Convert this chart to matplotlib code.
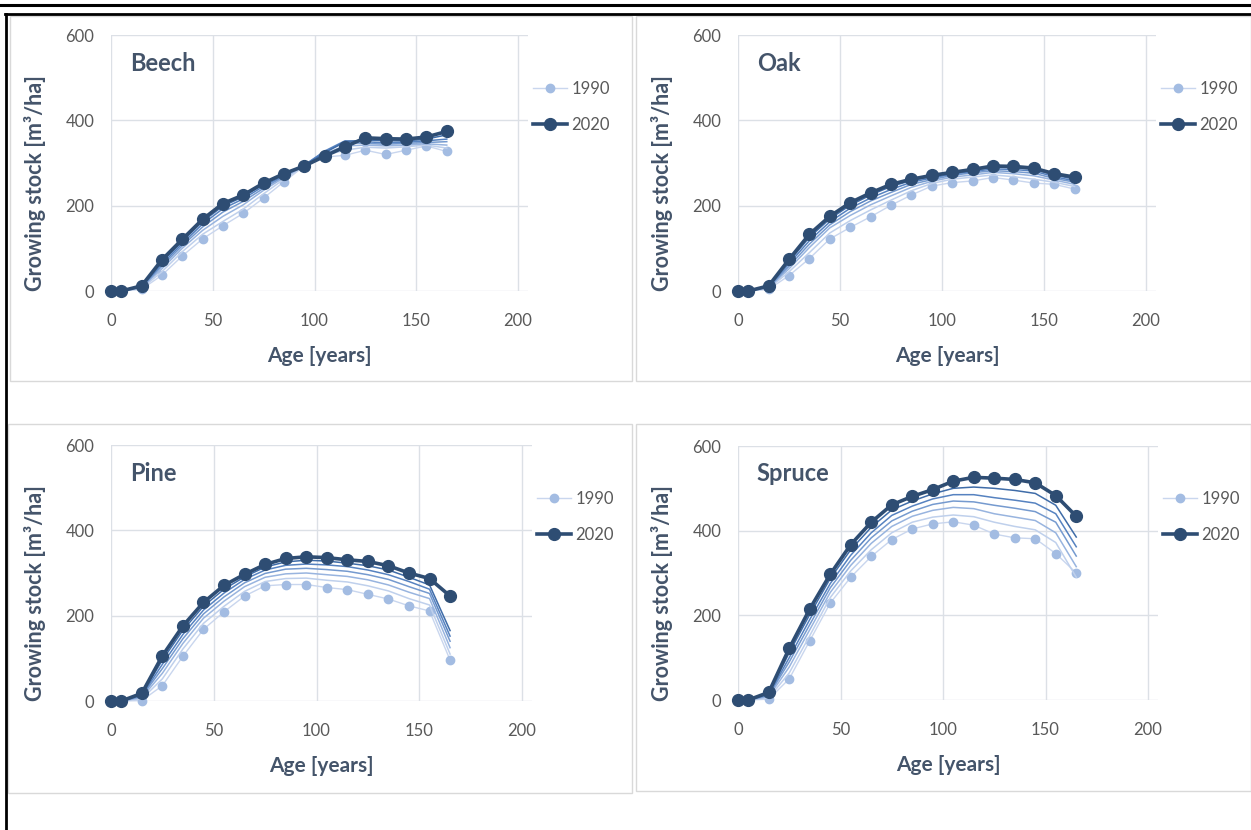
import matplotlib
matplotlib.use('Agg')
import matplotlib.pyplot as plt
from matplotlib.patches import Rectangle
from matplotlib.lines import Line2D

# Alter (Jahre) und Vorrat je Baumart
ages = [0, 5, 15, 25, 35, 45, 55, 65, 75, 85, 95, 105, 115, 125, 135, 145, 155, 165]
years = [1990, 1995, 2000, 2005, 2010, 2015, 2020]

beech = {
    1990: [0, 0, 4, 37, 82, 122, 153, 182, 218, 256, 293, 314, 318, 330, 320, 330, 340, 327],
    1995: [0, 0, 6, 45, 92, 133, 163, 192, 228, 262, 293, 318, 330, 337, 335, 338, 342, 335],
    2000: [0, 0, 8, 52, 100, 142, 175, 202, 236, 266, 294, 322, 340, 342, 340, 342, 345, 342],
    2005: [0, 0, 9, 58, 106, 150, 185, 210, 241, 269, 295, 326, 348, 346, 344, 346, 348, 350],
    2010: [0, 0, 10, 63, 111, 157, 193, 216, 246, 271, 295, 328, 352, 350, 347, 349, 352, 356],
    2015: [0, 0, 11, 68, 116, 163, 199, 221, 250, 273, 294, 324, 350, 354, 352, 352, 356, 366],
    2020: [0, 0, 12, 73, 121, 168, 205, 225, 253, 275, 293, 316, 338, 359, 357, 356, 361, 374],
}
oak = {
    1990: [0, 0, 4, 36, 76, 122, 149, 174, 201, 225, 246, 254, 258, 266, 260, 253, 250, 239],
    1995: [0, 0, 6, 45, 90, 136, 165, 190, 213, 235, 252, 262, 267, 272, 268, 262, 255, 245],
    2000: [0, 0, 8, 52, 102, 148, 177, 202, 223, 243, 257, 267, 272, 278, 275, 270, 260, 250],
    2005: [0, 0, 9, 58, 110, 155, 186, 211, 231, 250, 261, 271, 277, 282, 280, 276, 264, 255],
    2010: [0, 0, 10, 64, 118, 162, 194, 218, 238, 255, 265, 274, 280, 286, 285, 281, 268, 258],
    2015: [0, 0, 11, 69, 126, 169, 201, 225, 245, 259, 268, 276, 283, 290, 289, 285, 272, 262],
    2020: [0, 0, 12, 74, 133, 175, 207, 230, 250, 262, 271, 278, 285, 293, 292, 288, 275, 267],
}
pine = {
    1990: [0, 0, 1, 36, 105, 168, 209, 246, 270, 273, 273, 266, 261, 250, 239, 223, 211, 96],
    1995: [0, 0, 5, 52, 122, 182, 222, 257, 280, 287, 288, 283, 279, 270, 258, 240, 225, 110],
    2000: [0, 0, 8, 65, 135, 194, 234, 268, 290, 298, 300, 296, 292, 284, 272, 255, 240, 125],
    2005: [0, 0, 11, 76, 146, 204, 244, 277, 299, 309, 311, 308, 304, 296, 285, 268, 252, 140],
    2010: [0, 0, 13, 86, 156, 213, 253, 285, 307, 318, 321, 319, 315, 307, 296, 280, 262, 152],
    2015: [0, 0, 16, 96, 166, 222, 262, 291, 314, 326, 330, 328, 323, 317, 307, 290, 272, 165],
    2020: [0, 0, 18, 106, 176, 231, 271, 297, 320, 334, 338, 336, 331, 327, 317, 300, 287, 246],
}
spruce = {
    1990: [0, 0, 2, 50, 140, 229, 290, 339, 379, 404, 416, 421, 413, 392, 383, 381, 346, 300],
    1995: [0, 0, 5, 64, 152, 242, 305, 355, 395, 420, 432, 437, 433, 420, 410, 402, 372, 290],
    2000: [0, 0, 8, 78, 166, 254, 318, 370, 410, 434, 448, 455, 452, 440, 432, 424, 395, 315],
    2005: [0, 0, 11, 90, 178, 265, 330, 383, 423, 446, 462, 470, 468, 460, 453, 445, 420, 340],
    2010: [0, 0, 13, 100, 190, 275, 342, 395, 436, 458, 475, 485, 485, 478, 472, 465, 440, 362],
    2015: [0, 0, 15, 112, 202, 287, 355, 408, 449, 470, 487, 500, 503, 500, 495, 488, 460, 385],
    2020: [0, 0, 18, 122, 215, 297, 367, 420, 461, 481, 497, 517, 526, 524, 521, 513, 483, 434],
}

species = ['Beech', 'Oak', 'Pine', 'Spruce']
data = [beech, oak, pine, spruce]

# Farben
text_col = '#44546A'
tick_col = '#595959'
grid_col = '#DCE0E6'
col_1990 = '#A3BCE2'
col_2020 = '#2E4D73'
mid_cols = ['#BFD0EC', '#98B4DF', '#759ACF', '#5682C0', '#3F6CA8']

W, H = 1251, 830
fig = plt.figure(figsize=(W / 100, H / 100), dpi=100)
plt.rcParams['font.family'] = ['Lato', 'DejaVu Sans']

# Rahmen oben / links
fig.add_artist(Line2D([0, 1], [1 - 5 / H, 1 - 5 / H], color='black', lw=2.2, transform=fig.transFigure))
fig.add_artist(Line2D([5 / W, 1], [1 - 14 / H, 1 - 14 / H], color='black', lw=2, transform=fig.transFigure))
fig.add_artist(Line2D([6 / W, 6 / W], [0, 1 - 14 / H], color='black', lw=2, transform=fig.transFigure))

# Panel-Rahmen (x0, x1, y0, y1 in Pixel)
panels = [(10, 632, 16, 381), (636, 1251, 16, 381), (8, 632, 424, 793), (636, 1251, 424, 791)]
for x0, x1, y0, y1 in panels:
    fig.add_artist(Rectangle((x0 / W, 1 - y1 / H), (x1 - x0) / W, (y1 - y0) / H,
                             transform=fig.transFigure, fill=False, edgecolor='#D9D9D9', lw=1))

# Achsen (x bei Alter 0, x bei Alter 200, y oben bei 600, y unten bei 0)
axes_px = [(111, 518, 35, 291), (738, 1146, 35, 291), (111, 522, 445, 701), (738, 1148, 446, 700)]

for (x0, x200, ytop, ybot), name, d in zip(axes_px, species, data):
    x1 = x0 + (x200 - x0) * 205 / 200
    ax = fig.add_axes([x0 / W, 1 - ybot / H, (x1 - x0) / W, (ybot - ytop) / H])
    ax.set_xlim(0, 205)
    ax.set_ylim(0, 600)
    ax.set_xticks([0, 50, 100, 150, 200])
    ax.set_yticks([0, 200, 400, 600])
    ax.grid(True, color=grid_col, lw=1)
    ax.set_axisbelow(True)
    for s in ax.spines.values():
        s.set_visible(False)
    ax.tick_params(length=0, labelsize=12, labelcolor=tick_col)
    ax.tick_params(axis='x', pad=16)
    ax.tick_params(axis='y', pad=12)

    ax.plot(ages, d[1990], color='#C9D6EE', lw=1, marker='o', ms=6,
            mfc=col_1990, mec=col_1990, label='1990', clip_on=False, zorder=3)
    for yr, c in zip(years[1:-1], mid_cols):
        ax.plot(ages, d[yr], color=c, lw=1.1, clip_on=False, zorder=3)
    ax.plot(ages, d[2020], color=col_2020, lw=2.6, marker='o', ms=8.5,
            mfc=col_2020, mec=col_2020, label='2020', clip_on=False, zorder=4)

    ax.text(0.045, 0.89, name, transform=ax.transAxes, fontsize=17, fontweight='bold',
            color=text_col, va='center', ha='left')
    ax.set_xlabel('Age [years]', fontsize=15, fontweight='bold', color=text_col, labelpad=12)
    ax.set_ylabel('Growing stock [m³/ha]', fontsize=15.5, fontweight='bold', color=text_col)
    ax.yaxis.set_label_coords(-0.155, 0.42)

    leg = ax.legend(loc='center left', bbox_to_anchor=(1.0, 0.72), frameon=False,
                    fontsize=12, handlelength=2.0, labelspacing=1.2, handletextpad=0.3,
                    borderaxespad=0.2, borderpad=0.1)
    for t in leg.get_texts():
        t.set_color(tick_col)

plt.savefig('out.png', dpi=100)
